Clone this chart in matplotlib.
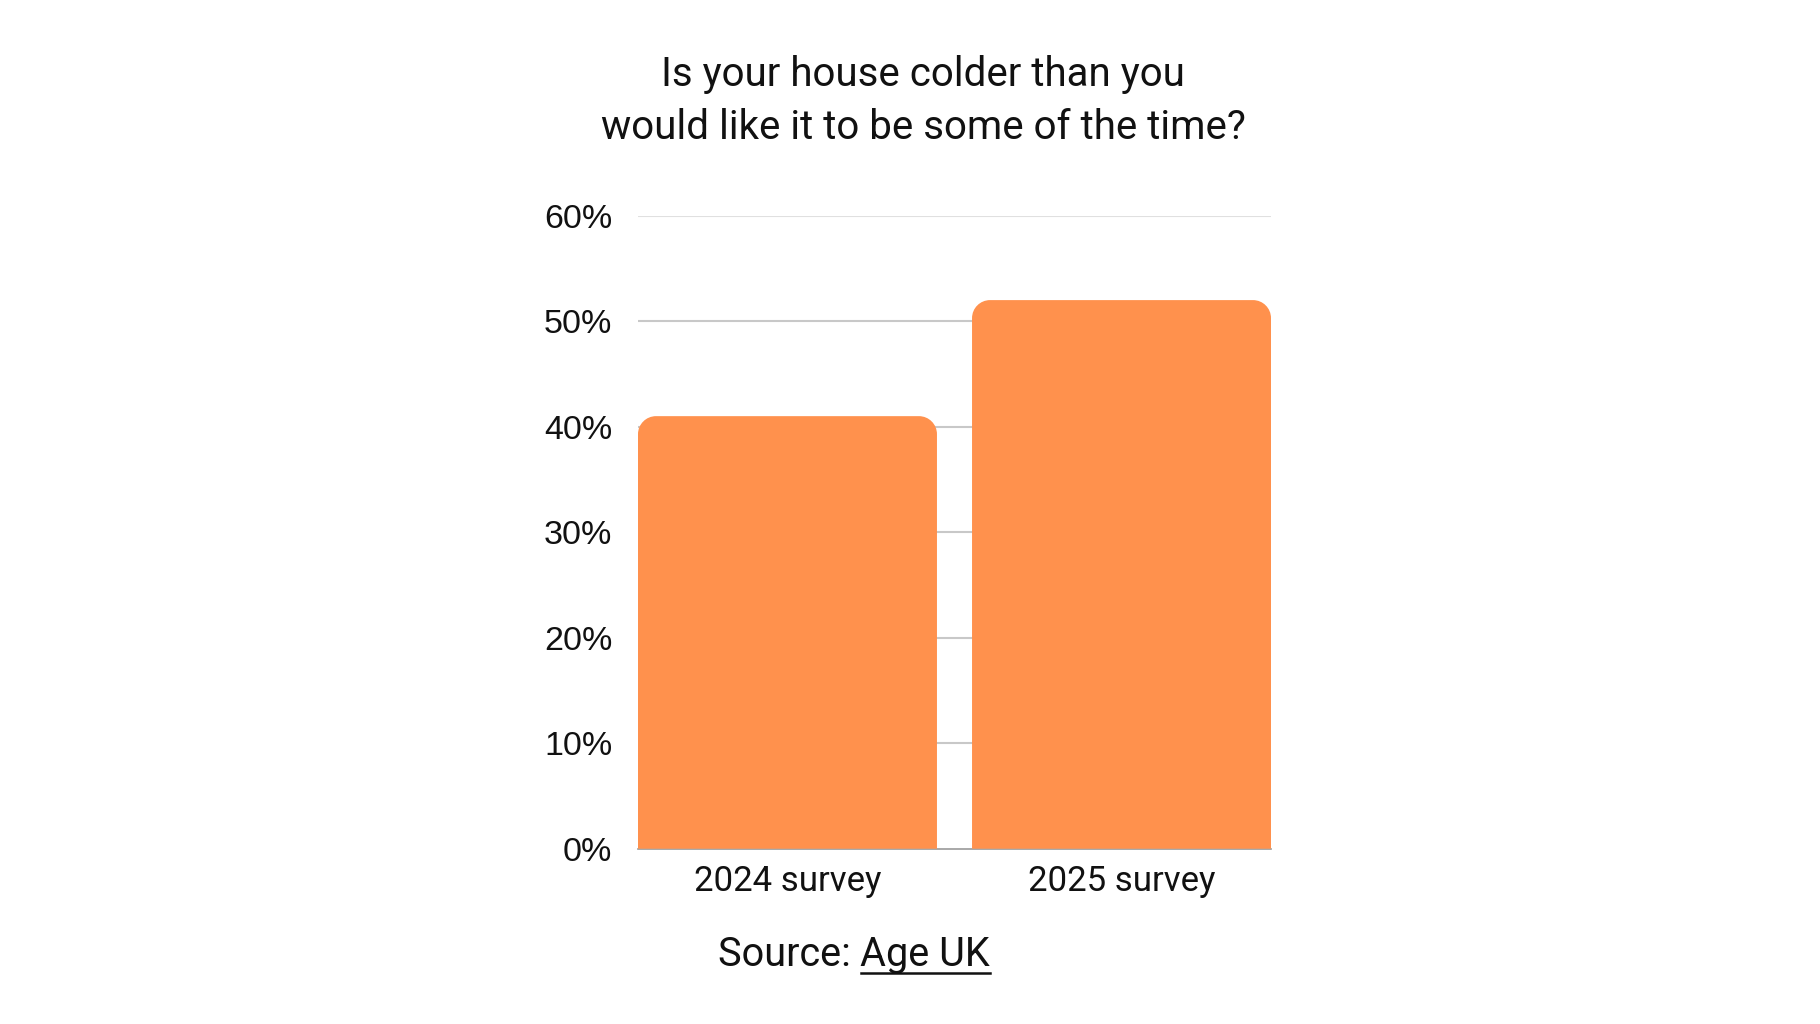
import matplotlib
matplotlib.use("Agg")
import matplotlib.pyplot as plt
from matplotlib.path import Path
from matplotlib.patches import PathPatch
from matplotlib.transforms import IdentityTransform

categories = ["2024 survey", "2025 survey"]
values = [41, 52]
yticks = [0, 10, 20, 30, 40, 50, 60]
ytick_labels = ["0%", "10%", "20%", "30%", "40%", "50%", "60%"]
title_text = "Is your house colder than you\nwould like it to be some of the time?"
source_prefix = "Source: "
source_link = "Age UK"

BAR_COLOR = "#FF914D"
FONT = ["Roboto", "DejaVu Sans"]
TICK_FONT = ["Liberation Sans", "DejaVu Sans"]

W, H, DPI = 1820, 1024, 100
fig = plt.figure(figsize=(W / DPI, H / DPI), dpi=DPI)
fig.patch.set_facecolor("white")

ax = fig.add_axes([638 / W, 1 - 848.7 / H, (1271 - 638) / W, (848.7 - 215.7) / H])
width = 0.895
x = list(range(len(categories)))
bars = ax.bar(x, values, width=width, color=BAR_COLOR, zorder=3)
ax.set_xlim(-width / 2, len(categories) - 1 + width / 2)
ax.set_ylim(0, 60)

ax.set_yticks(yticks)
ax.set_yticklabels(ytick_labels, fontsize=24.5, family=TICK_FONT, color="#111111")
ax.set_xticks(x)
ax.set_xticklabels(categories, fontsize=25, family=FONT, color="#111111")
ax.tick_params(axis="y", length=0, pad=18.5)
ax.tick_params(axis="x", length=0, pad=12)
for s in ["top", "right", "left"]:
    ax.spines[s].set_visible(False)
ax.spines["bottom"].set_color("#999999")
ax.spines["bottom"].set_linewidth(1.2)
ax.spines["bottom"].set_zorder(2)
for yv in yticks[1:]:
    ax.axhline(yv, color="#e0e0e0" if yv == 60 else "#c8c8c8", lw=1.5, zorder=1)

# Rounded top corners for bars
fig.canvas.draw()
r = 18
for rect in bars:
    rect.set_visible(False)
    x0, y0 = ax.transData.transform((rect.get_x(), 0))
    x1, y1 = ax.transData.transform((rect.get_x() + rect.get_width(), rect.get_height()))
    k = 0.5523 * r
    verts = [
        (x0, y0), (x0, y1 - r),
        (x0, y1 - r + k), (x0 + r - k, y1), (x0 + r, y1),
        (x1 - r, y1),
        (x1 - r + k, y1), (x1, y1 - r + k), (x1, y1 - r),
        (x1, y0), (x0, y0),
    ]
    codes = [Path.MOVETO, Path.LINETO,
             Path.CURVE4, Path.CURVE4, Path.CURVE4,
             Path.LINETO,
             Path.CURVE4, Path.CURVE4, Path.CURVE4,
             Path.LINETO, Path.CLOSEPOLY]
    p = PathPatch(Path(verts, codes), facecolor=BAR_COLOR, edgecolor="none",
                  transform=IdentityTransform(), zorder=3)
    fig.add_artist(p)

fig.text(923 / W, 1 - 101 / H, title_text, ha="center", va="center",
         fontsize=29, family=FONT, color="#111111", linespacing=1.45)

# Source with underlined link
fig.canvas.draw()
renderer = fig.canvas.get_renderer()
t1 = fig.text(0, 1 - 955 / H, source_prefix, ha="left", va="center",
              fontsize=28.5, family=FONT, color="#111111")
t2 = fig.text(0, 1 - 955 / H, source_link, ha="left", va="center",
              fontsize=28.5, family=FONT, color="#111111")
w1 = t1.get_window_extent(renderer).width
w2 = t2.get_window_extent(renderer).width
total = w1 + w2
start = 854 - total / 2
t1.set_x(start / W)
t2.set_x((start + w1) / W)
bb = t2.get_window_extent(renderer)
uy = bb.y0 + 2
fig.add_artist(plt.Line2D([bb.x0 / W, bb.x1 / W], [uy / H, uy / H],
                          color="#111111", lw=1.8, transform=fig.transFigure))

fig.savefig("out.png", dpi=DPI, facecolor="white")
